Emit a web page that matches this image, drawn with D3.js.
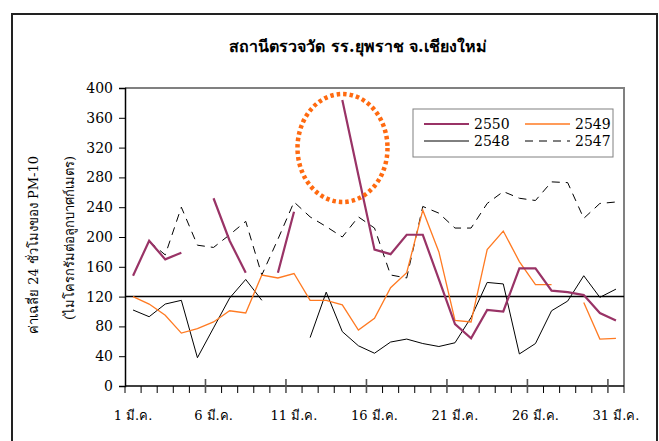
<!DOCTYPE html>
<html>
<head>
<meta charset="utf-8">
<script src="https://cdn.jsdelivr.net/npm/d3@7"></script>
<style>
	body { margin: 0; background: #fff; }
	svg text { font-family: "DejaVu Serif", "Liberation Serif", serif; }
</style>
</head>
<body>
<div id="chart-area"></div>
<script>
// DATA (1-31 March)
const days = d3.range(1, 32)
const labelDays = [1, 6, 11, 16, 21, 26, 31]
const yTicks = [0, 40, 80, 120, 160, 200, 240, 280, 320, 360, 400]
const seriesNames = ["2550", "2549", "2548", "2547"]

const v2550 = [148, 195, 170, 179, null, 252, 195, 152, null, 152, 234, null, null, 384, 283,
	183, 177, 203, 203, 143, 83, 64, 102, 100, 158, 158, 128, 126, 122, 98, 88]
const v2549 = [120, 110, 95, 71, 77, 86, 101, 98, 149, 145, 151, 115, 115, 109, 75,
	91, 132, 152, 236, 180, 88, 86, 183, 208, 167, 136, 136, null, 112, 63, 64]
const v2548 = [102, 93, 110, 115, 38, 78, 118, 143, 115, null, null, 65, 126, 73, 54,
	44, 59, 63, 57, 53, 58, 92, 139, 137, 43, 57, 101, 114, 148, 119, 130]
const v2547 = [null, 194, 176, 240, 189, 186, 203, 221, 149, 197, 247, 227, 214, 200, 227,
	212, 149, 145, 241, 232, 212, 212, 245, 261, 252, 249, 274, 273, 225, 245, 247]

const limitValue = 120

// LAYOUT
const W = 659, H = 441
const PLOT = { LEFT: 125, RIGHT: 624, TOP: 88, BOTTOM: 386 }

const styles = {
	"2550": { color: "#993366", width: 2.2, dash: null },
	"2549": { color: "#ff7a22", width: 1.3, dash: null },
	"2548": { color: "#000", width: 1, dash: null },
	"2547": { color: "#000", width: 1, dash: "8,6" }
}
const valuesByName = { "2550": v2550, "2549": v2549, "2548": v2548, "2547": v2547 }

const svg = d3.select("#chart-area").append("svg")
	.attr("width", W)
	.attr("height", H)

// outer frame
svg.append("rect")
	.attr("x", 12).attr("y", 14)
	.attr("width", 645).attr("height", 440)
	.attr("fill", "none")
	.attr("stroke", "#222")
	.attr("stroke-width", 2)

// title
svg.append("text")
	.attr("x", 358).attr("y", 52)
	.attr("text-anchor", "middle")
	.attr("font-size", "16px")
	.attr("font-weight", "bold")
	.text("สถานีตรวจวัด รร.ยุพราช จ.เชียงใหม่")

// SCALES
const x = d3.scaleBand()
	.domain(days)
	.range([PLOT.LEFT, PLOT.RIGHT])
	.padding(0)

const y = d3.scaleLinear()
	.domain([0, 400])
	.range([PLOT.BOTTOM, PLOT.TOP])

const cx = d => x(d) + x.bandwidth() / 2

// plot area border (top / right grey)
svg.append("path")
	.attr("d", `M${PLOT.LEFT},${PLOT.TOP}H${PLOT.RIGHT}V${PLOT.BOTTOM}`)
	.attr("fill", "none")
	.attr("stroke", "#808080")
	.attr("stroke-width", 2)

// Y axis
const yAxis = svg.append("g")
	.attr("transform", `translate(${PLOT.LEFT},0)`)
	.call(d3.axisLeft(y).tickValues(yTicks).tickSize(6).tickPadding(6))
yAxis.select(".domain").attr("stroke-width", 1.5)
yAxis.selectAll("text")
	.attr("font-size", "14px")
	.attr("font-family", "DejaVu Serif")
	.attr("fill", "#000")

// X axis: ticks on category boundaries, long ones every 5 days
const boundaries = days.map(d => x(d)).concat([PLOT.RIGHT])
const xAxis = svg.append("g")
xAxis.append("line")
	.attr("x1", PLOT.LEFT).attr("x2", PLOT.RIGHT)
	.attr("y1", PLOT.BOTTOM).attr("y2", PLOT.BOTTOM)
	.attr("stroke", "#000").attr("stroke-width", 1.5)
xAxis.selectAll(".tick-b")
	.data(boundaries)
	.enter().append("line")
	.attr("class", "tick-b")
	.attr("x1", d => d).attr("x2", d => d)
	.attr("y1", (d, i) => (i % 5 === 0 && i > 0) ? PLOT.BOTTOM - 7 : PLOT.BOTTOM)
	.attr("y2", PLOT.BOTTOM + 7)
	.attr("stroke", (d, i) => (i % 5 === 0 && i > 0) ? "#555" : "#000")
	.attr("stroke-width", (d, i) => (i % 5 === 0 && i > 0) ? 1.6 : 1)

xAxis.selectAll(".xlabel")
	.data(labelDays)
	.enter().append("text")
	.attr("class", "xlabel")
	.attr("x", d => cx(d))
	.attr("y", 420)
	.attr("text-anchor", "middle")
	.attr("font-size", "13px")
	.text(d => d + " มี.ค.")

// Y axis title (two lines)
svg.append("text")
	.attr("transform", "translate(38,245) rotate(-90)")
	.attr("text-anchor", "middle")
	.attr("font-size", "13px")
	.text("ค่าเฉลี่ย 24 ชั่วโมงของ PM-10")
svg.append("text")
	.attr("transform", "translate(74,238) rotate(-90)")
	.attr("text-anchor", "middle")
	.attr("font-size", "13px")
	.text("(ไมโครกรัมต่อลูกบาศก์เมตร)")

// limit line
svg.append("line")
	.attr("x1", PLOT.LEFT).attr("x2", PLOT.RIGHT)
	.attr("y1", y(limitValue)).attr("y2", y(limitValue))
	.attr("stroke", "#000").attr("stroke-width", 1.5)

// SERIES (drawn back to front)
const line = d3.line()
	.defined(d => d.v !== null)
	.x(d => cx(d.day))
	.y(d => y(d.v))

;["2547", "2548", "2549", "2550"].forEach(name => {
	const st = styles[name]
	svg.append("path")
		.datum(days.map((d, i) => ({ day: d, v: valuesByName[name][i] })))
		.attr("d", line)
		.attr("fill", "none")
		.attr("stroke", st.color)
		.attr("stroke-width", st.width)
		.attr("stroke-dasharray", st.dash)
		.attr("stroke-linejoin", "miter")
})

// highlight ellipse around the peak
svg.append("ellipse")
	.attr("cx", 342.5).attr("cy", 148)
	.attr("rx", 45).attr("ry", 54)
	.attr("fill", "none")
	.attr("stroke", "#ff6a10")
	.attr("stroke-width", 4.5)
	.attr("stroke-dasharray", "3.5,3")

// LEGEND
const legend = svg.append("g")
legend.append("rect")
	.attr("x", 413).attr("y", 109)
	.attr("width", 200).attr("height", 48)
	.attr("fill", "#fff")
	.attr("stroke", "#808080")
	.attr("stroke-width", 1)

const legendPos = [
	{ x: 424, y: 124 }, { x: 525, y: 124 },
	{ x: 424, y: 141 }, { x: 525, y: 141 }
]
seriesNames.forEach((name, i) => {
	const p = legendPos[i], st = styles[name]
	legend.append("line")
		.attr("x1", p.x).attr("x2", p.x + 45)
		.attr("y1", p.y).attr("y2", p.y)
		.attr("stroke", st.color)
		.attr("stroke-width", st.width)
		.attr("stroke-dasharray", st.dash)
	legend.append("text")
		.attr("x", p.x + 50).attr("y", p.y + 5)
		.attr("font-size", "14px")
		.text(name)
})
</script>
</body>
</html>
